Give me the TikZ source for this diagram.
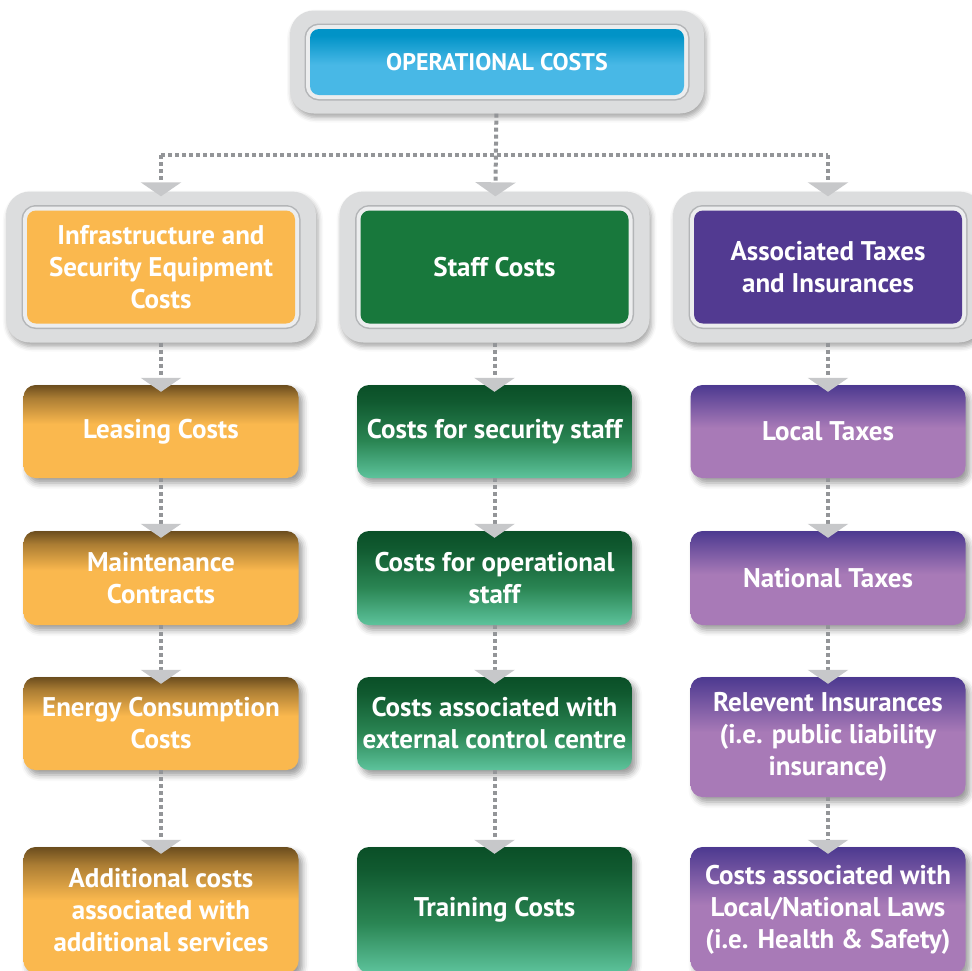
\documentclass[tikz,border=0pt]{standalone}
\usepackage{fontspec}
\setmainfont{PT Sans}
\usetikzlibrary{arrows.meta,shadows.blur}

\definecolor{orangeC}{HTML}{FAB84E}
\definecolor{orangeD}{HTML}{6B4D1E}
\definecolor{greenD}{HTML}{0A4F27}
\definecolor{greenM}{HTML}{2A8553}
\definecolor{greenL}{HTML}{5DC39C}
\definecolor{greenS}{HTML}{18783C}
\definecolor{purpleD}{HTML}{4C3990}
\definecolor{purpleL}{HTML}{A87AB7}
\definecolor{purpleS}{HTML}{523A91}
\definecolor{blueD}{HTML}{0193C7}
\definecolor{blueL}{HTML}{48B8E6}
\definecolor{frameGray}{HTML}{DCDDDE}
\definecolor{ringGray}{HTML}{B3B5B7}
\definecolor{frameLight}{HTML}{ECEDEE}
\definecolor{lineGray}{HTML}{939598}
\definecolor{tipGray}{HTML}{C7C8CA}

\pgfdeclareverticalshading{orangegrad}{100bp}{color(0bp)=(orangeC); color(25bp)=(orangeC); color(54bp)=(orangeC); color(68bp)=(orangeD!55!orangeC); color(75bp)=(orangeD); color(100bp)=(orangeD)}
\pgfdeclareverticalshading{greengrad}{100bp}{color(0bp)=(greenL); color(25bp)=(greenL); color(45bp)=(greenM); color(66bp)=(greenD!80!greenM); color(75bp)=(greenD); color(100bp)=(greenD)}
\pgfdeclareverticalshading{purplegrad}{100bp}{color(0bp)=(purpleL); color(25bp)=(purpleL); color(52bp)=(purpleL); color(75bp)=(purpleD); color(100bp)=(purpleD)}
\pgfdeclareverticalshading{bluegrad}{100bp}{color(0bp)=(blueL); color(25bp)=(blueL); color(48bp)=(blueL); color(70bp)=(blueD); color(75bp)=(blueD); color(100bp)=(blueD)}

\tikzset{
  frame/.style={rounded corners=24pt, fill=frameGray,
    blur shadow={shadow xshift=2pt, shadow yshift=-4pt, shadow blur radius=5pt, shadow opacity=35}},
  inset/.style={rounded corners=9pt, text=white, align=center,
    font=\bfseries\fontsize{27}{32}\selectfont,
    preaction={draw=ringGray, line width=11pt},
    preaction={draw=frameLight, line width=8pt}},
  cell/.style={rounded corners=12pt, minimum width=275pt, text=white, align=center,
    font=\bfseries\fontsize{27}{32}\selectfont,
    blur shadow={shadow xshift=4pt, shadow yshift=-5pt, shadow blur radius=6pt, shadow opacity=40}},
  orangecell/.style={cell, shading=orangegrad},
  greencell/.style={cell, shading=greengrad},
  purplecell/.style={cell, shading=purplegrad},
  link/.style={draw=lineGray, line width=4pt, dash pattern=on 4pt off 3pt},
  arrowlink/.style={link, shorten >=-7pt,
    -{Triangle[width=40pt, length=14pt, color=tipGray, fill=tipGray]}}
}

\begin{document}
\begin{tikzpicture}[x=1pt, y=-1pt]
  \useasboundingbox (0,0) rectangle (972,970);

  % top
  \node[frame, minimum width=414pt, minimum height=103pt] (opsF) at (497,62) {};
  \node[inset, shading=bluegrad, minimum width=374pt, minimum height=66pt,
        font=\bfseries\fontsize{24}{28}\selectfont] (ops) at (497,62) {OPERATIONAL COSTS};

  % second row
  \node[frame, minimum width=310pt, minimum height=151pt] (infraF) at (161,267) {};
  \node[frame, minimum width=310pt, minimum height=151pt] (staffF) at (494.5,267) {};
  \node[frame, minimum width=310pt, minimum height=151pt] (taxF) at (828,267) {};
  \node[inset, fill=orangeC, minimum width=268pt, minimum height=113pt] (infra) at (161,267)
        {Infrastructure and\\Security Equipment\\Costs};
  \node[inset, fill=greenS, minimum width=268pt, minimum height=113pt] (staff) at (494.5,267) {Staff Costs};
  \node[inset, fill=purpleS, minimum width=268pt, minimum height=113pt] (tax) at (828,267)
        {Associated Taxes\\and Insurances};

  % left column
  \node[orangecell, minimum height=93pt] (lease) at (161,431.5) {Leasing Costs};
  \node[orangecell, minimum height=94pt] (maint) at (161,578) {Maintenance\\Contracts};
  \node[orangecell, minimum height=93pt] (energy) at (161,723.5) {Energy Consumption\\Costs};
  \node[orangecell, minimum height=126pt] (addit) at (161,910) {Additional costs\\associated with\\additional services};

  % middle column
  \node[greencell, minimum height=93pt] (secur) at (494.5,431.5) {Costs for security staff};
  \node[greencell, minimum height=94pt] (oper) at (494.5,578) {Costs for operational\\staff};
  \node[greencell, minimum height=93pt] (extern) at (494.5,723.5) {Costs associated with\\external control centre};
  \node[greencell, minimum height=126pt] (train) at (494.5,910) {Training Costs};

  % right column
  \node[purplecell, minimum height=93pt] (local) at (828,431.5) {Local Taxes};
  \node[purplecell, minimum height=94pt] (nation) at (828,578) {National Taxes};
  \node[purplecell, minimum height=120pt] (insur) at (828,737) {Relevent Insurances\\(i.e. public liability\\insurance)};
  \node[purplecell, minimum height=126pt] (laws) at (828,910) {Costs associated with\\Local/National Laws\\(i.e. Health \& Safety)};

  % connectors
  \coordinate (jL) at (161,155);
  \coordinate (jR) at (828,155);
  \draw[link] (jL) -- (jR);
  \draw[arrowlink, shorten >=-5pt] (opsF) -- (staffF);
  \draw[arrowlink, shorten >=-5pt] (jL) -- (infraF);
  \draw[arrowlink, shorten >=-5pt] (jR) -- (taxF);

  \draw[arrowlink] (infraF) -- (lease);
  \draw[arrowlink] (lease) -- (maint);
  \draw[arrowlink] (maint) -- (energy);
  \draw[arrowlink] (energy) -- (addit);

  \draw[arrowlink] (staffF) -- (secur);
  \draw[arrowlink] (secur) -- (oper);
  \draw[arrowlink] (oper) -- (extern);
  \draw[arrowlink] (extern) -- (train);

  \draw[arrowlink] (taxF) -- (local);
  \draw[arrowlink] (local) -- (nation);
  \draw[arrowlink] (nation) -- (insur);
  \draw[arrowlink] (insur) -- (laws);
\end{tikzpicture}
\end{document}
